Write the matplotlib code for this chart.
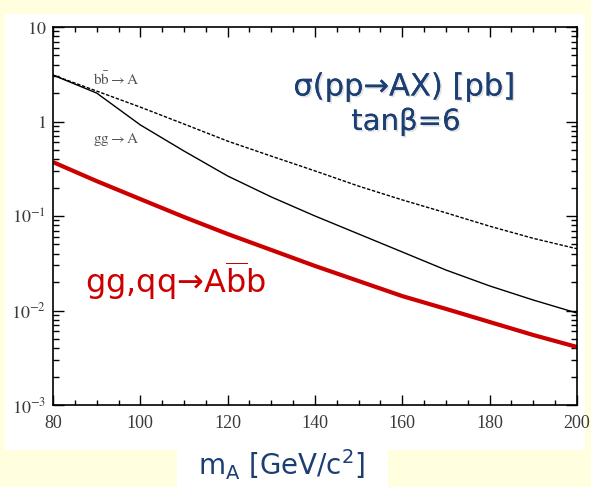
import matplotlib
matplotlib.use('Agg')
import matplotlib.pyplot as plt
import matplotlib.patheffects as pe
from matplotlib.patches import Rectangle
from matplotlib.ticker import MultipleLocator, LogLocator, NullFormatter
import numpy as np

# cross sections vs. pseudoscalar mass, tan(beta)=6
m_A = [80, 90, 100, 110, 120, 130, 140, 150, 160, 170, 180, 190, 200]
sigma_bb_A = [3.10, 2.10, 1.42, 0.94, 0.62, 0.43, 0.30, 0.207, 0.148, 0.108, 0.078, 0.058, 0.045]
sigma_gg_A = [3.10, 2.00, 0.92, 0.487, 0.265, 0.159, 0.100, 0.0645, 0.0416, 0.0268, 0.0182, 0.0129, 0.0094]
sigma_Abb = [0.372, 0.234, 0.151, 0.0976, 0.0645, 0.0437, 0.0296, 0.0205, 0.0142, 0.0104, 0.00756, 0.0055, 0.00411]

y_ticks = [1e-3, 1e-2, 1e-1, 1, 10]
y_ticklabels = [r'$10^{-3}$', r'$10^{-2}$', r'$10^{-1}$', r'$1\quad$', r'$10\quad$']
x_ticks = [80, 100, 120, 140, 160, 180, 200]

W, H = 591, 487
fig = plt.figure(figsize=(W / 100, H / 100), dpi=100)
fig.patch.set_facecolor('#FFFFE0')

# white slide panel plus the box under the axis title
fig.patches.append(Rectangle((5 / W, 1 - 450 / H), 580 / W, 436 / H,
                             transform=fig.transFigure, facecolor='white', edgecolor='none', zorder=-10))
fig.patches.append(Rectangle((177 / W, 0), 211 / W, 1 - 440 / H,
                             transform=fig.transFigure, facecolor='white', edgecolor='none', zorder=-10))

ax = fig.add_axes([53 / W, 1 - 405 / H, 524 / W, 378 / H])
ax.set_facecolor('white')

ax.plot(m_A, sigma_bb_A, color='black', lw=1.0, dashes=(2.5, 1.2))
ax.plot(m_A, sigma_gg_A, color='black', lw=1.0)
ax.plot(m_A, sigma_Abb, color='#CC0000', lw=3.0, solid_capstyle='butt')

ax.set_yscale('log')
ax.set_xlim(80, 200)
ax.set_ylim(1e-3, 10)

ax.set_xticks(x_ticks)
ax.set_xticklabels([str(v) for v in x_ticks], fontfamily='Liberation Serif')
ax.xaxis.set_minor_locator(MultipleLocator(5))
ax.set_yticks(y_ticks)
ax.set_yticklabels(y_ticklabels)
for lab in ax.get_yticklabels():
    lab.set_math_fontfamily('stix')
ax.yaxis.set_minor_locator(LogLocator(base=10, subs=np.arange(2, 10)))
ax.yaxis.set_minor_formatter(NullFormatter())

ax.tick_params(which='both', direction='in', top=True, right=True, width=1.0,
               labelcolor='#3a3a3a', labelsize=13)
ax.tick_params(axis='x', which='major', length=7, pad=7)
ax.tick_params(axis='x', which='minor', length=3.5)
ax.tick_params(axis='y', which='major', length=8, pad=5)
ax.tick_params(axis='y', which='minor', length=4.5)
for s in ax.spines.values():
    s.set_linewidth(1.2)

# curve labels
lab_x = 80 + (93 - 53) / 524 * 120
ax.text(lab_x, 10 ** (1 - (79 - 27) / 94.5), r'$\mathrm{b\bar{b}}\rightarrow\mathrm{A}$',
        color='#555555', fontsize=11, math_fontfamily='stix', va='center', ha='left')
ax.text(lab_x, 10 ** (1 - (139 - 27) / 94.5), r'$\mathrm{gg}\rightarrow\mathrm{A}$',
        color='#555555', fontsize=11, math_fontfamily='stix', va='center', ha='left')

shadow = [pe.withSimplePatchShadow(offset=(1.2, -1.2), shadow_rgbFace='#999999', alpha=0.3), pe.Normal()]
navy = '#1B3F73'
fig.text(404 / W, 1 - 87 / H, 'σ(pp→AX) [pb]', color=navy, fontsize=22,
         fontfamily='DejaVu Sans', ha='center', va='center', path_effects=shadow)
fig.text(406 / W, 1 - 122 / H, 'tanβ=6', color=navy, fontsize=21,
         fontfamily='DejaVu Sans', ha='center', va='center', path_effects=shadow)

fig.text(85 / W, 1 - 281 / H, r'gg,qq→A$\overline{\mathrm{b}}$b', color='#CC0000', fontsize=23,
         fontfamily='DejaVu Sans', math_fontfamily='dejavusans', ha='left', va='center')

fig.text(282 / W, 1 - 465 / H, r'm$_\mathrm{A}$ [GeV/c$^2$]', color=navy, fontsize=20,
         fontfamily='DejaVu Sans', math_fontfamily='dejavusans', ha='center', va='center')

fig.savefig('out.png', dpi=100, facecolor=fig.get_facecolor())
